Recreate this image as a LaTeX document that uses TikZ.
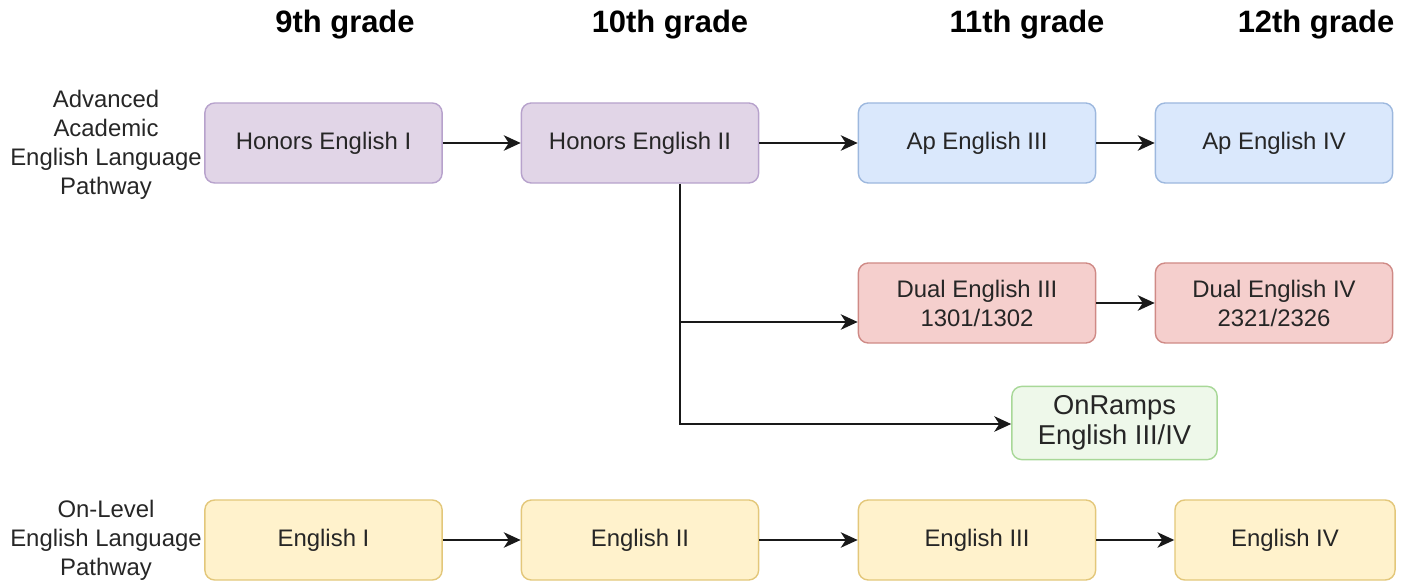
\documentclass[tikz,border=0pt]{standalone}
\usepackage{fontspec}
\setmainfont{Liberation Sans}
\usepackage{tikz}
\usetikzlibrary{arrows.meta,positioning,calc}
\definecolor{honfill}{HTML}{E1D5E7}\definecolor{hondraw}{HTML}{B7A2CC}
\definecolor{apfill}{HTML}{DAE8FC}\definecolor{apdraw}{HTML}{9DB8DE}
\definecolor{dualfill}{HTML}{F5CFCD}\definecolor{dualdraw}{HTML}{CF8A86}
\definecolor{rampfill}{HTML}{EEF8EA}\definecolor{rampdraw}{HTML}{A8D898}
\definecolor{levfill}{HTML}{FFF2CC}\definecolor{levdraw}{HTML}{E3C77A}

\begin{document}
\begin{tikzpicture}[x=0.025cm,y=-0.025cm,
            every node/.style={font=\fontsize{17}{20.6}\selectfont,text=black!85},
            >={Stealth[length=12pt,width=11pt,inset=3.5pt]},
            course/.style={rounded corners=7pt,line width=1pt,minimum
              width=5.93cm,minimum height=2cm,align=center},
            honset/.style={course,draw=hondraw,fill=honfill},
            apset/.style={course,draw=apdraw,fill=apfill},
            dualset/.style={course,draw=dualdraw,fill=dualfill},
            levset/.style={course,draw=levdraw,fill=levfill},
            grade/.style={font=\bfseries\fontsize{22}{26}\selectfont,text=black},
            pathway/.style={align=center},
            link/.style={->,line width=1.2pt,draw=black!90}
            ]
            \useasboundingbox (0,0) rectangle (1413,582);
            % grade headings
            \node[grade] (g9) at (345,25) {9th grade}; \node[grade] (g10)
            at (670,25) {10th grade}; \node[grade] (g11) at (1027,25)
            {11th grade}; \node[grade] (g12) at (1316,25) {12th grade};
            % pathway labels
            \node[pathway] (advanced) at (106,145) {Advanced\\Academic\\English
              Language\\Pathway}; \node[pathway] (onlevel) at (106,540)
            {On-Level\\English Language\\Pathway};
            % courses
            \node[honset] (hon1) at (323.5,143) {Honors English I};
            \node[honset] (hon2) at (640,143) {Honors English II};
            \node[apset] (ap3) at (977,143) {Ap English III};
            \node[apset] (ap4) at (1274,143) {Ap English IV};
            \node[dualset] (dual3) at (977,303) {Dual English
              III\\1301/1302}; \node[dualset] (dual4) at (1274,303) {Dual
              English IV\\2321/2326}; \node[course,draw=rampdraw,
            fill=rampfill,minimum width=5.13cm,minimum height=1.83cm,
            font=\fontsize{19.4}{21.3}\selectfont] (onramps) at
            (1114.5,423) {OnRamps\\English III/IV};
            \node[levset] (eng1) at (323.5,540) {English I}; \node[levset]
            (eng2) at (640,540) {English II}; \node[levset] (eng3) at
            (977,540) {English III}; \node[levset,minimum width=5.5cm]
            (eng4) at (1285,540) {English IV};
            % connectors
            \coordinate (split) at (680,322); \coordinate (corner) at
            (680,424);
            \draw[link] (hon1) -- (hon2); \draw[link] (hon2) -- (ap3);
            \draw[link] (ap3) -- (ap4); \draw[link] (dual3) -- (dual4);
            \draw[link] (hon2.south -| split) -- (split) -- (split -|
            dual3.west); \draw[link] (split) -- (corner) -- (corner -|
            onramps.west);
            \draw[link] (eng1) -- (eng2); \draw[link] (eng2) -- (eng3);
            \draw[link] (eng3) -- (eng4);
          \end{tikzpicture}
\end{document}
